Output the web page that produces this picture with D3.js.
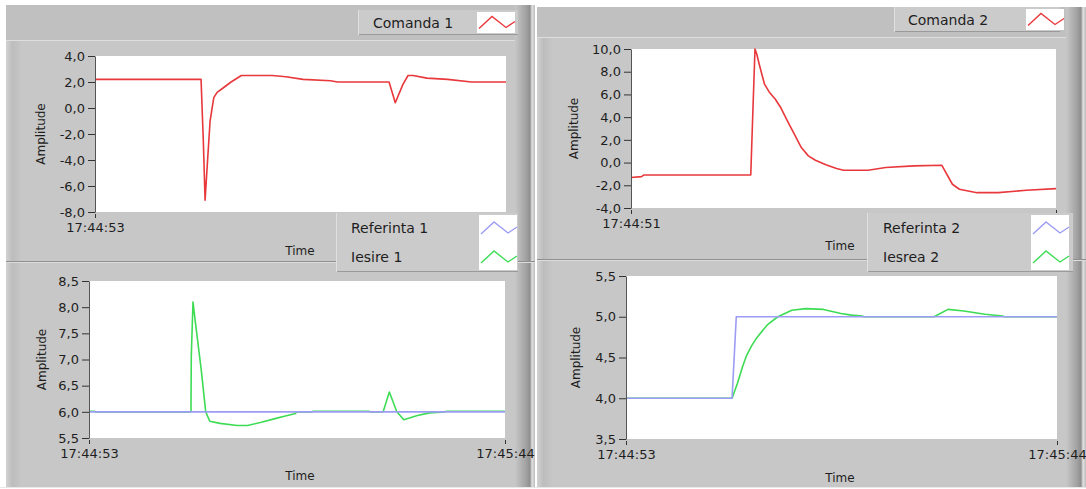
<!DOCTYPE html>
<html><head><meta charset="utf-8">
<script src="https://cdn.jsdelivr.net/npm/d3@7"></script>
<style>
body{margin:0;background:#fff}
svg{display:block}
text{font-family:"DejaVu Sans",sans-serif;fill:#1e1e1e}
</style>
</head><body>
<svg id="c" width="1086" height="489"></svg>
<script>
// ---------- DATA ----------
// time in seconds from the first sample of each record
const timeDomain = [0, 51];

const comanda1T = [0, 13.16, 13.44, 13.66, 13.87, 14.28, 14.74, 15.15, 15.81, 16.88, 18.16, 21.98, 23.69, 25.82, 29.23, 30.09, 36.49, 37.26, 38.2, 38.84, 39.47, 41.18, 43.76, 46.72, 51];
const comanda1V = [2.2, 2.2, -2.5, -7.1, -5.0, -1.0, 0.8, 1.2, 1.5, 2.0, 2.5, 2.5, 2.4, 2.2, 2.1, 2.0, 2.0, 0.4, 1.8, 2.5, 2.5, 2.3, 2.2, 2.0, 2.0];

const referinta1T = [0, 51];
const referinta1V = [6.0, 6.0];
const iesire1T = [0, 0.72, 0.8, 12.5, 12.54, 12.75, 12.96, 13.21, 13.76, 14.31, 14.81, 16.07, 18.18, 19.44, 21.12, 22.81, 24.07, 25.33, 25.42, 27.35, 27.44, 34.38, 34.46, 36.06, 36.82, 37.74, 38.59, 40.27, 41.74, 43.64, 43.85, 51];
const iesire1V = [6.01, 6.01, 6.0, 6.0, 7.06, 8.1, 7.82, 7.5, 6.8, 6.0, 5.82, 5.78, 5.74, 5.74, 5.8, 5.87, 5.92, 5.97, 6.0, 6.0, 6.01, 6.01, 6.0, 6.0, 6.38, 6.0, 5.85, 5.93, 5.98, 6.0, 6.01, 6.01];

const comanda2T = [0, 1.26, 1.56, 14.37, 14.63, 14.88, 15.09, 15.38, 16.02, 16.6, 17.3, 18.0, 18.75, 19.6, 20.44, 21.28, 22.13, 23.39, 24.66, 25.5, 28.45, 30.56, 33.93, 37.3, 38.57, 39.41, 41.52, 44.05, 47.42, 51];
const comanda2V = [-1.32, -1.24, -1.09, -1.09, 4.6, 10.0, 9.56, 8.68, 6.9, 6.2, 5.6, 4.8, 3.7, 2.5, 1.32, 0.59, 0.2, -0.2, -0.53, -0.68, -0.68, -0.44, -0.29, -0.24, -1.91, -2.35, -2.65, -2.65, -2.44, -2.29];

const referinta2T = [0, 12.55, 13.05, 51];
const referinta2V = [4.0, 4.0, 5.0, 5.0];
const iesrea2T = [0, 12.55, 13.18, 13.8, 14.21, 14.84, 15.46, 16.71, 17.96, 19.62, 21.28, 23.36, 25.44, 26.68, 27.93, 28.14, 36.45, 38.11, 39.98, 42.48, 44.56, 44.76, 51];
const iesrea2V = [4.0, 4.0, 4.18, 4.39, 4.51, 4.64, 4.74, 4.9, 5.0, 5.08, 5.1, 5.09, 5.04, 5.02, 5.01, 5.0, 5.0, 5.09, 5.07, 5.03, 5.01, 5.0, 5.0];

const yTicks1 = [4, 2, 0, -2, -4, -6, -8];
const yTicks2 = [8.5, 8, 7.5, 7, 6.5, 6, 5.5];
const yTicks3 = [10, 8, 6, 4, 2, 0, -2, -4];
const yTicks4 = [5.5, 5, 4.5, 4, 3.5];

const timeLabels1 = ["17:44:53", ""];
const timeLabels2 = ["17:44:53", "17:45:44"];
const timeLabels3 = ["17:44:51", ""];
const timeLabels4 = ["17:44:53", "17:45:44"];

const legendNames1 = ["Comanda 1"];
const legendNames2 = ["Referinta 1", "Iesire 1"];
const legendNames3 = ["Comanda 2"];
const legendNames4 = ["Referinta 2", "Iesrea 2"];

const yTitle = "Amplitude";
const xTitle = "Time";

// ---------- STYLE ----------
const RED = "#e8383c", GREEN = "#3edc55", BLUE = "#9c9cf4";
const BG = "#c7c7c7";

const svg = d3.select("#c");
const defs = svg.append("defs");

function grad(id, stops, horiz = true) {
  const g = defs.append("linearGradient").attr("id", id)
    .attr("x1", 0).attr("y1", 0).attr("x2", horiz ? 1 : 0).attr("y2", horiz ? 0 : 1);
  stops.forEach(([o, c]) => g.append("stop").attr("offset", o).attr("stop-color", c));
}
grad("lbevel", [[0, "#d2d2d2"], [0.4, "#bdbdbd"], [1, "#c7c7c7"]]);
grad("rbevel", [[0, "#c7c7c7"], [0.55, "#a2a2a2"], [0.75, "#8e8e8e"], [0.85, "#e2e2e2"], [1, "#bcbcbc"]]);

function rect(x, y, w, h, fill) {
  return svg.append("rect").attr("x", x).attr("y", y).attr("width", w).attr("height", h).attr("fill", fill);
}
function hline(x1, x2, y, c) {
  svg.append("line").attr("x1", x1).attr("x2", x2).attr("y1", y + 0.5).attr("y2", y + 0.5).attr("stroke", c);
}
function vline(x, y1, y2, c) {
  svg.append("line").attr("x1", x + 0.5).attr("x2", x + 0.5).attr("y1", y1).attr("y2", y2).attr("stroke", c);
}

// Column backgrounds
function column(x0, x1, top, bandBottom, sepY) {
  rect(x0, top, x1 - x0, 487 - top, BG);
  rect(x0, top, x1 - x0, bandBottom - top, "#c0c0c0");
  hline(x0, x1, bandBottom, "#dedede");
  rect(x0, bandBottom + 1, 16, 487 - bandBottom - 1, "url(#lbevel)");
  rect(x1 - 20, top, 20, 487 - top, "url(#rbevel)");
  hline(x0, x1, sepY, "#8f8f8f");
  hline(x0, x1, sepY + 1, "#dcdcdc");
}
column(6, 535, 5, 40, 261);
column(537, 1086, 7, 37, 259);
hline(0, 1086, 487, "#e8e8e8");

// ---------- CHARTS ----------
const fmt = v => d3.format(".1f")(v).replace(".", ",").replace("\u2212", "-");

function chart(o) {
  const x = d3.scaleLinear().domain(timeDomain).range([o.l, o.r]);
  const y = d3.scaleLinear().domain(d3.extent(o.yTicks)).range([o.b, o.t]);
  rect(o.l, o.t, o.r - o.l, o.b - o.t, "#fff");

  const cid = "clip" + o.id;
  defs.append("clipPath").attr("id", cid).append("rect")
    .attr("x", o.l).attr("y", o.t - 1).attr("width", o.r - o.l).attr("height", o.b - o.t + 2);

  const line = d3.line().x(d => x(d[0])).y(d => y(d[1]));
  const pl = svg.append("g").attr("clip-path", `url(#${cid})`);
  o.series.forEach(s => {
    pl.append("path").datum(s.t.map((t, i) => [t, s.v[i]]))
      .attr("d", line).attr("fill", "none").attr("stroke", s.color)
      .attr("stroke-width", 1.6).attr("stroke-linejoin", "round");
  });

  const ya = svg.append("g").attr("transform", `translate(${o.l},0)`)
    .call(d3.axisLeft(y).tickValues(o.yTicks).tickFormat(fmt).tickSizeInner(7).tickSizeOuter(0).tickPadding(3));
  ya.select(".domain").attr("stroke", "#555");
  ya.selectAll(".tick line").attr("stroke", "#333");
  ya.selectAll("text").style("font-size", "13px").attr("fill", "#1e1e1e");

  const xa = svg.append("g").attr("transform", `translate(0,${o.b + 2})`)
    .call(d3.axisBottom(x).tickValues(timeDomain).tickFormat((d, i) => o.timeLabels[i]).tickSize(4).tickPadding(5));
  xa.select(".domain").remove();
  xa.selectAll(".tick line").attr("stroke", "#333");
  xa.selectAll("text").style("font-size", "13px").attr("fill", "#1e1e1e");

  svg.append("text").attr("transform", `translate(${o.yTitleX},${(o.t + o.b) / 2}) rotate(-90)`)
    .attr("text-anchor", "middle").attr("dominant-baseline", "central")
    .style("font-size", "12px").text(yTitle);
  svg.append("text").attr("x", o.xTitleX).attr("y", o.xTitleY)
    .attr("text-anchor", "middle").attr("dominant-baseline", "central")
    .style("font-size", "12px").text(xTitle);
}

chart({id: 1, l: 95, r: 506, t: 56, b: 212, yTicks: yTicks1, timeLabels: timeLabels1,
  series: [{t: comanda1T, v: comanda1V, color: RED}], yTitleX: 41, xTitleX: 300, xTitleY: 251});
chart({id: 2, l: 89, r: 505, t: 281, b: 438, yTicks: yTicks2, timeLabels: timeLabels2,
  series: [{t: iesire1T, v: iesire1V, color: GREEN}, {t: referinta1T, v: referinta1V, color: BLUE}],
  yTitleX: 42, xTitleX: 300, xTitleY: 476});
chart({id: 3, l: 631, r: 1056, t: 49, b: 208, yTicks: yTicks3, timeLabels: timeLabels3,
  series: [{t: comanda2T, v: comanda2V, color: RED}], yTitleX: 574, xTitleX: 840, xTitleY: 246});
chart({id: 4, l: 626, r: 1057, t: 276, b: 439, yTicks: yTicks4, timeLabels: timeLabels4,
  series: [{t: iesrea2T, v: iesrea2V, color: GREEN}, {t: referinta2T, v: referinta2V, color: BLUE}],
  yTitleX: 576, xTitleX: 840, xTitleY: 478});

// ---------- LEGENDS ----------
function legend(o) {
  const n = o.names.length;
  const h = n === 1 ? 25 : 59;
  const step = n === 1 ? 0 : 29;
  rect(o.x, o.y, o.w, h, "#cbcbcb");
  hline(o.x, o.x + o.w, o.y + h - 1, "#9a9a9a");
  vline(o.x, o.y, o.y + h, "#e0e0e0");
  rect(o.sx, o.y + 2, 38, h - 4, "#fff");
  o.names.forEach((name, i) => {
    const cy = o.y + (n === 1 ? h / 2 : 15 + i * step);
    svg.append("text").attr("x", o.tx).attr("y", cy).attr("dominant-baseline", "central")
      .style("font-size", "14px").text(name);
    const sx = o.sx;
    svg.append("polyline")
      .attr("points", [[sx + 2, cy + 6], [sx + 15, cy - 6], [sx + 29, cy + 5], [sx + 38, cy - 1]].map(p => p.join(",")).join(" "))
      .attr("fill", "none").attr("stroke", o.colors[i]).attr("stroke-width", 1.4);
  });
}
legend({x: 358, y: 10, w: 160, names: legendNames1, colors: [RED], tx: 373, sx: 477});
legend({x: 336, y: 213, w: 182, names: legendNames2, colors: [BLUE, GREEN], tx: 351, sx: 479});
legend({x: 894, y: 7, w: 166, names: legendNames3, colors: [RED], tx: 908, sx: 1026});
legend({x: 867, y: 213, w: 206, names: legendNames4, colors: [BLUE, GREEN], tx: 883, sx: 1031});
</script>
</body></html>
